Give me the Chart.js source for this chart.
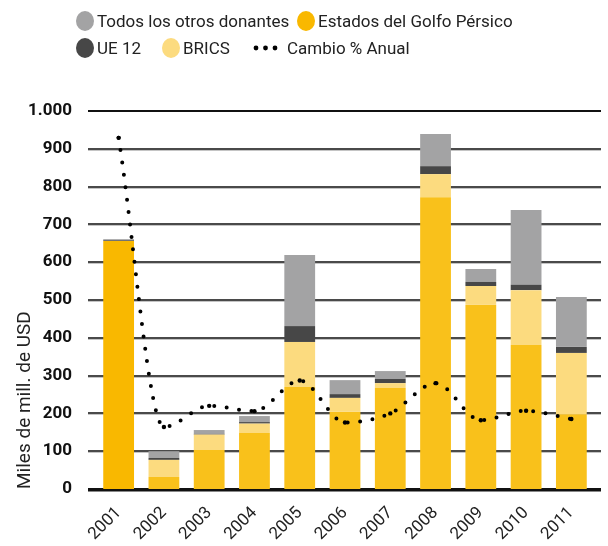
<!DOCTYPE html>
<html><head><meta charset="utf-8">
<script src="https://cdn.jsdelivr.net/npm/chart.js@4"></script>
<style>
html,body{margin:0;padding:0;background:#fff;}
#wrap{position:relative;width:608px;height:546px;overflow:hidden;}
#c{position:absolute;left:0;top:0;}
.leg{position:absolute;font-family:Roboto,"Noto Sans",sans-serif;font-size:17px;color:#222;white-space:nowrap;line-height:20px;}
.mk{position:absolute;width:18px;height:20px;border-radius:50%;}
.dots{position:absolute;line-height:20px;}
</style></head><body>
<div id="wrap">
<canvas id="c" width="608" height="546"></canvas>
<div id="legend"></div>
</div>
<script>
const years = ['2001','2002','2003','2004','2005','2006','2007','2008','2009','2010','2011'];
const golfo = [656, 32, 103, 148, 270, 204, 267, 772, 487, 381, 198];
const brics = [0, 45, 41, 25, 119, 37, 13, 61, 50, 145, 162];
const ue12 = [2, 5, 2, 4, 42, 10, 11, 21, 11, 14, 16];
const otros = [3, 18, 10, 16, 188, 37, 21, 85, 34, 198, 132];
const cambio = [929, 164, 220, 206, 287, 176, 200, 280, 182, 207, 185];
const yTicks = [0, 100, 200, 300, 400, 500, 600, 700, 800, 900, 1000];

const cGolfo = '#F9B800', cGolfo2 = '#F9C11B', cBrics = '#FCDB7F', cUe = '#474747', cOtros = '#A3A3A4';

const gridPlugin = {
  id: 'customGrid',
  beforeDatasetsDraw(chart) {
    const {ctx, chartArea, scales: {y}} = chart;
    const x0 = chartArea.left - 8, x1 = chartArea.right + 7;
    ctx.save();
    yTicks.forEach(v => {
      const py = Math.round(y.getPixelForValue(v));
      if (v === 0) {
        ctx.fillStyle = '#111'; ctx.fillRect(x0, py - 1, x1 - x0, 3);
        ctx.fillStyle = '#888'; ctx.fillRect(x0, py + 2, x1 - x0, 1);
      } else if (v === 1000) {
        ctx.fillStyle = '#111'; ctx.fillRect(x0, py - 1, x1 - x0, 2);
      } else {
        ctx.fillStyle = '#4a4a4a'; ctx.fillRect(x0, py - 1, x1 - x0, 2);
        ctx.fillStyle = '#c4c4c4'; ctx.fillRect(x0, py + 1, x1 - x0, 1);
      }
    });
    ctx.restore();
  }
};

const bar = (label, data, color) => ({
  type: 'bar', label, data, backgroundColor: color, borderWidth: 0,
  barPercentage: 0.68, categoryPercentage: 1, stack: 'd', order: 1
});

new Chart(document.getElementById('c'), {
  data: {
    labels: years,
    datasets: [
      bar('Estados del Golfo Pérsico', golfo, golfo.map((v, i) => i === 0 ? cGolfo : cGolfo2)),
      bar('BRICS', brics, cBrics),
      bar('UE 12', ue12, cUe),
      bar('Todos los otros donantes', otros, cOtros),
      {
        type: 'line', label: 'Cambio % Anual', data: cambio, stack: 'l', order: 0,
        borderColor: '#000', borderWidth: 4, borderDash: [0, 12.5], borderCapStyle: 'round',
        cubicInterpolationMode: 'monotone', fill: false,
        pointRadius: 2.2, pointBackgroundColor: '#000', pointBorderWidth: 0
      }
    ]
  },
  options: {
    responsive: false, animation: false,
    layout: {padding: {top: 111, right: 14, bottom: 0, left: 0}},
    plugins: {legend: {display: false}, tooltip: {enabled: false}},
    scales: {
      x: {
        stacked: true,
        grid: {display: false}, border: {display: false},
        ticks: {maxRotation: 45, minRotation: 45, color: '#222', padding: 6,
          font: {family: 'Roboto', size: 17}},
        afterFit(s) { s.height = 57; }
      },
      y: {
        stacked: true, min: 0, max: 1000,
        grid: {display: false}, border: {display: false},
        afterBuildTicks(s) { s.ticks = yTicks.map(v => ({value: v})); },
        ticks: {color: '#111', padding: 16, font: {family: 'Roboto', size: 17, weight: 'bold'},
          callback: v => String(v).replace(/\B(?=(\d{3})+(?!\d))/g, '.')},
        title: {display: true, text: 'Miles de mill. de USD', color: '#222', align: 'start',
          font: {family: 'Roboto', size: 19}, padding: {top: 14, bottom: 0}},
        afterFit(s) { s.width = 96; }
      }
    }
  },
  plugins: [gridPlugin]
});

// HTML legend
const legendItems = [
  {label: 'Todos los otros donantes', color: cOtros, x: 76, y: 11},
  {label: 'Estados del Golfo Pérsico', color: cGolfo, x: 297, y: 11},
  {label: 'UE 12', color: cUe, x: 76, y: 38},
  {label: 'BRICS', color: cBrics, x: 162, y: 38},
  {label: 'Cambio % Anual', color: null, x: 253, y: 38}
];
const lg = document.getElementById('legend');
legendItems.forEach(it => {
  if (it.color) {
    const m = document.createElement('div'); m.className = 'mk';
    m.style.left = it.x + 'px'; m.style.top = it.y + 'px'; m.style.background = it.color;
    lg.appendChild(m);
    const t = document.createElement('div'); t.className = 'leg';
    t.style.left = (it.x + 21) + 'px'; t.style.top = it.y + 'px'; t.textContent = it.label;
    lg.appendChild(t);
  } else {
    const d = document.createElement('div'); d.className = 'dots';
    d.style.left = it.x + 'px'; d.style.top = it.y + 'px';
    d.innerHTML = '<svg width="26" height="20"><circle cx="3" cy="10" r="2.4" fill="#000"/><circle cx="12.5" cy="10" r="2.4" fill="#000"/><circle cx="22" cy="10" r="2.4" fill="#000"/></svg>';
    lg.appendChild(d);
    const t = document.createElement('div'); t.className = 'leg';
    t.style.left = (it.x + 34) + 'px'; t.style.top = it.y + 'px'; t.textContent = it.label;
    lg.appendChild(t);
  }
});
</script>
</body></html>
